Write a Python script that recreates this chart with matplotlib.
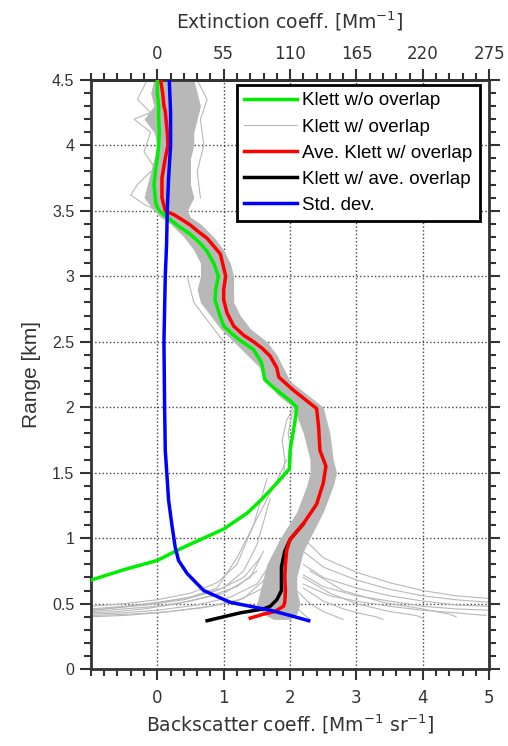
import matplotlib.pyplot as plt
import numpy as np

plt.rcParams['font.family'] = 'DejaVu Sans'

# --- profiles (range in km, backscatter in Mm-1 sr-1) ---
green_y = [4.5, 4.4, 4.3, 4.2, 4.1, 4.0, 3.9, 3.8, 3.7, 3.6, 3.55, 3.5, 3.47, 3.43,
           3.39, 3.32, 3.25, 3.19, 3.1, 3.0, 2.9, 2.82, 2.72, 2.62, 2.55, 2.51, 2.44,
           2.34, 2.21, 2.15, 2.11, 2.05, 2.0, 1.88, 1.67, 1.53, 1.42, 1.3, 1.19, 1.07,
           0.92, 0.83, 0.76, 0.68]
green_x = [0.0, 0.0, 0.02, 0.02, 0.03, 0.02, 0.0, -0.03, -0.05, -0.03, -0.02, 0.03, 0.1, 0.2,
           0.3, 0.5, 0.65, 0.75, 0.85, 0.92, 0.88, 0.87, 0.93, 1.0, 1.15, 1.25, 1.45,
           1.57, 1.62, 1.75, 1.85, 2.0, 2.1, 2.07, 2.0, 1.99, 1.8, 1.58, 1.35, 1.0,
           0.35, 0.0, -0.5, -1.0]

red_y = [4.5, 4.4, 4.3, 4.26, 4.1, 4.0, 3.9, 3.75, 3.6, 3.5, 3.47, 3.43, 3.39, 3.34,
         3.29, 3.17, 3.0, 2.9, 2.82, 2.72, 2.62, 2.55, 2.5, 2.45, 2.39, 2.3, 2.23,
         2.13, 2.05, 1.99, 1.85, 1.67, 1.55, 1.42, 1.26, 1.11, 0.99, 0.91, 0.8, 0.71,
         0.6, 0.51, 0.48, 0.44, 0.42, 0.39]
red_x = [0.05, 0.08, 0.1, 0.12, 0.15, 0.16, 0.12, 0.07, 0.07, 0.12, 0.25, 0.38, 0.5, 0.62,
         0.75, 0.95, 1.03, 1.0, 1.0, 1.05, 1.15, 1.3, 1.45, 1.58, 1.7, 1.8, 1.83,
         2.05, 2.25, 2.4, 2.43, 2.45, 2.54, 2.5, 2.4, 2.2, 2.0, 1.95, 1.93, 1.92,
         1.93, 1.92, 1.9, 1.77, 1.6, 1.4]

black_y = [1.11, 0.99, 0.9, 0.78, 0.6, 0.53, 0.48, 0.46, 0.43, 0.4, 0.37]
black_x = [2.2, 2.0, 1.92, 1.87, 1.87, 1.8, 1.7, 1.6, 1.25, 1.0, 0.75]

blue_y = [4.5, 4.25, 4.0, 3.75, 3.5, 3.25, 3.0, 2.5, 2.0, 1.67, 1.29, 1.1, 0.93, 0.83,
          0.73, 0.6, 0.51, 0.45, 0.41, 0.37]
blue_x = [0.18, 0.2, 0.2, 0.17, 0.15, 0.14, 0.12, 0.1, 0.11, 0.12, 0.17, 0.22, 0.27, 0.32,
          0.45, 0.7, 1.1, 1.7, 2.0, 2.28]

# dense bundle of individual Klett w/ overlap profiles (left / right edge)
band_y = [4.5, 4.4, 4.3, 4.2, 4.1, 4.0, 3.9, 3.8, 3.7, 3.6, 3.5, 3.45, 3.4, 3.3, 3.2,
          3.1, 3.0, 2.9, 2.8, 2.7, 2.6, 2.5, 2.4, 2.3, 2.2, 2.1, 2.0, 1.8, 1.6, 1.5,
          1.4, 1.2, 1.0, 0.9, 0.8, 0.7, 0.6, 0.5, 0.42, 0.38]
band_l = [-0.05, -0.1, -0.05, -0.2, -0.05, 0.0, -0.05, -0.1, -0.15, -0.2, -0.05, 0.05, 0.2, 0.4, 0.55,
          0.65, 0.65, 0.6, 0.65, 0.8, 0.95, 1.15, 1.35, 1.55, 1.65, 1.8, 2.05, 2.2, 2.3, 2.3,
          2.25, 2.1, 1.85, 1.75, 1.65, 1.6, 1.55, 1.5, 1.6, 1.75]
band_r = [0.55, 0.6, 0.65, 0.6, 0.55, 0.55, 0.5, 0.5, 0.5, 0.55, 0.45, 0.5, 0.65, 0.85, 1.0,
          1.1, 1.15, 1.15, 1.15, 1.25, 1.4, 1.65, 1.8, 1.9, 2.0, 2.25, 2.5, 2.6, 2.65, 2.7,
          2.65, 2.5, 2.3, 2.2, 2.15, 2.1, 2.1, 2.15, 2.1, 2.0]

# stray single profiles (spread around the bundle and tails near the overlap region)
tails = [
    ([-1, -0.5, 0, 0.5, 0.9, 1.2, 1.45, 1.65], [0.48, 0.5, 0.53, 0.58, 0.66, 0.8, 1.1, 1.45]),
    ([-1, -0.5, 0, 0.5, 1.0, 1.3, 1.5, 1.7], [0.46, 0.48, 0.51, 0.55, 0.62, 0.75, 0.95, 1.3]),
    ([-1, -0.5, 0, 0.5, 1.0, 1.4, 1.6], [0.44, 0.46, 0.48, 0.52, 0.58, 0.7, 0.9]),
    ([-1, -0.5, 0, 0.6, 1.1, 1.5, 1.7], [0.42, 0.43, 0.45, 0.49, 0.55, 0.65, 0.8]),
    ([-1, -0.5, 0, 0.7, 1.2, 1.6], [0.40, 0.41, 0.43, 0.47, 0.52, 0.62]),
    ([-1, -0.4, 0.2, 0.8, 1.3, 1.65], [0.41, 0.42, 0.44, 0.48, 0.54, 0.7]),
    ([-1, -0.6, -0.2, 0.3, 0.8, 1.2, 1.5], [0.43, 0.44, 0.46, 0.5, 0.56, 0.63, 0.75]),
    ([-1, -0.6, -0.2, 0.4, 0.9, 1.3, 1.55], [0.45, 0.47, 0.49, 0.53, 0.6, 0.7, 0.85]),
    ([-1, 0, 0.5, 0.9, 1.2, 1.5, 1.8, 1.95], [0.45, 0.5, 0.55, 0.62, 0.85, 1.15, 1.44, 1.6]),
    ([1.9, 1.92, 1.88, 1.95, 2.05, 2.1], [1.45, 1.6, 1.75, 1.9, 2.0, 2.1]),
    ([2.0, 2.02, 1.97, 2.03, 2.15], [1.5, 1.65, 1.8, 1.95, 2.05]),
    ([-0.15, -0.3, -0.1, -0.35, -0.1, -0.2, 0.0], [4.5, 4.35, 4.25, 4.2, 4.1, 3.95, 3.8]),
    ([-0.1, -0.3, -0.4, -0.2, 0.0, 0.1], [3.8, 3.7, 3.62, 3.55, 3.5, 3.45]),
    ([0.6, 0.75, 0.65, 0.7, 0.6, 0.65], [4.5, 4.35, 4.2, 4.0, 3.8, 3.6]),
    ([0.45, 0.5, 0.55, 0.7, 0.85, 1.0], [3.0, 2.9, 2.8, 2.7, 2.6, 2.5]),
    ([2.2, 2.5, 3.0, 3.5, 4.0, 4.5, 5.0], [1.0, 0.85, 0.74, 0.66, 0.6, 0.56, 0.54]),
    ([2.2, 2.5, 3.0, 3.5, 4.0, 4.5, 5.0], [0.9, 0.78, 0.68, 0.61, 0.56, 0.53, 0.51]),
    ([2.2, 2.5, 3.0, 3.5, 4.0, 4.5, 5.0], [0.8, 0.7, 0.62, 0.56, 0.52, 0.49, 0.48]),
    ([2.2, 2.5, 3.0, 3.5, 4.0, 4.5, 5.0], [0.72, 0.63, 0.56, 0.52, 0.48, 0.46, 0.45]),
    ([2.2, 2.6, 3.0, 3.5, 4.0, 4.5, 4.95], [0.65, 0.56, 0.52, 0.48, 0.45, 0.43, 0.41]),
    ([2.2, 2.5, 2.8, 3.1, 3.3, 3.4], [0.62, 0.52, 0.46, 0.42, 0.4, 0.38]),
    ([2.1, 2.3, 2.5, 2.7, 2.8], [0.6, 0.5, 0.44, 0.4, 0.38]),
    ([2.2, 2.6, 3.0, 3.5, 3.9, 4.0], [0.7, 0.58, 0.5, 0.44, 0.41, 0.39]),
    ([2.3, 2.8, 3.4, 4.0, 4.4, 4.5], [0.75, 0.6, 0.51, 0.46, 0.42, 0.4]),
    ([2.0, 2.1, 2.2, 2.3], [0.55, 0.47, 0.42, 0.38]),
]

x_ticks = [0, 1, 2, 3, 4, 5]
y_ticks = [0, 0.5, 1, 1.5, 2, 2.5, 3, 3.5, 4, 4.5]
ext_ticks = [0, 55, 110, 165, 220, 275]
lidar_ratio = 55

gray = '#b8b8b8'
spine_c = '#333333'

fig = plt.figure(figsize=(5.08, 7.46), dpi=100)
ax = fig.add_axes([0.179, 0.103, 0.784, 0.790])

ax.fill_betweenx(band_y, band_l, band_r, color=gray, lw=0, zorder=2)
for i, (tx, ty) in enumerate(tails):
    ax.plot(tx, ty, color=gray, lw=0.8, zorder=2,
            label='Klett w/ overlap' if i == 0 else None)

ax.plot(green_x, green_y, color='#00ee00', lw=2.5, zorder=4, label='Klett w/o overlap')
ax.plot(black_x, black_y, color='black', lw=2.5, zorder=4, label='Klett w/ ave. overlap')
ax.plot(red_x, red_y, color='red', lw=2.5, zorder=5, label='Ave. Klett w/ overlap')
ax.plot(blue_x, blue_y, color='blue', lw=2.5, zorder=6, label='Std. dev.')

ax.set_xlim(-1, 5)
ax.set_ylim(0, 4.5)
ax.set_xticks(x_ticks)
ax.set_xticks(np.arange(-1, 5.01, 0.2), minor=True)
ax.set_yticks(y_ticks)
ax.set_yticklabels(['0', '0.5', '1', '1.5', '2', '2.5', '3', '3.5', '4', '4.5'])
ax.set_yticks(np.arange(0, 4.51, 0.1), minor=True)
ax.grid(True, which='major', ls=':', color='#444444', lw=1.0)

ax.tick_params(which='both', direction='out', colors=spine_c, labelcolor='#333333',
               right=True, width=1.5)
ax.tick_params(which='major', length=8)
ax.tick_params(which='minor', length=5)
ax.tick_params(axis='y', labelsize=11.5, pad=4)
ax.tick_params(axis='x', labelsize=12, pad=6)
for lab in ax.get_yticklabels():
    lab.set_family('Liberation Sans')
for s in ax.spines.values():
    s.set_linewidth(2)
    s.set_color(spine_c)

sec = ax.secondary_xaxis('top', functions=(lambda b: b * lidar_ratio, lambda e: e / lidar_ratio))
sec.set_xticks(ext_ticks)
sec.set_xticks(np.arange(-55, 275.1, 11), minor=True)
sec.tick_params(which='both', direction='out', colors=spine_c, labelcolor='#333333', width=1.5)
sec.tick_params(which='major', length=8, labelsize=12, pad=4)
sec.tick_params(which='minor', length=5)
sec.spines['top'].set_linewidth(2)
sec.spines['top'].set_color(spine_c)
sec.set_xlabel('Extinction coeff. [Mm$^{-1}$]', fontsize=13.5, color='#333333', labelpad=12)

ax.set_xlabel('Backscatter coeff. [Mm$^{-1}$ sr$^{-1}$]', fontsize=13.5, color='#333333',
              labelpad=4)
ax.set_ylabel('Range [km]', fontsize=15, family='Liberation Sans', color='#333333', labelpad=8)

handles, labels = ax.get_legend_handles_labels()
order = ['Klett w/o overlap', 'Klett w/ overlap', 'Ave. Klett w/ overlap',
         'Klett w/ ave. overlap', 'Std. dev.']
hmap = dict(zip(labels, handles))
leg = ax.legend([hmap[k] for k in order], order, loc='upper right',
                bbox_to_anchor=(0.977, 0.9915), prop={'family': 'Liberation Sans', 'size': 13.5},
                frameon=True, fancybox=False, handlelength=2.8, handletextpad=0.3,
                labelspacing=0.48, borderpad=0.4, borderaxespad=0.0)
leg.get_frame().set_edgecolor('black')
leg.get_frame().set_linewidth(2)
leg.get_frame().set_alpha(1)
leg.set_zorder(10)

fig.savefig('out.png', dpi=100)
